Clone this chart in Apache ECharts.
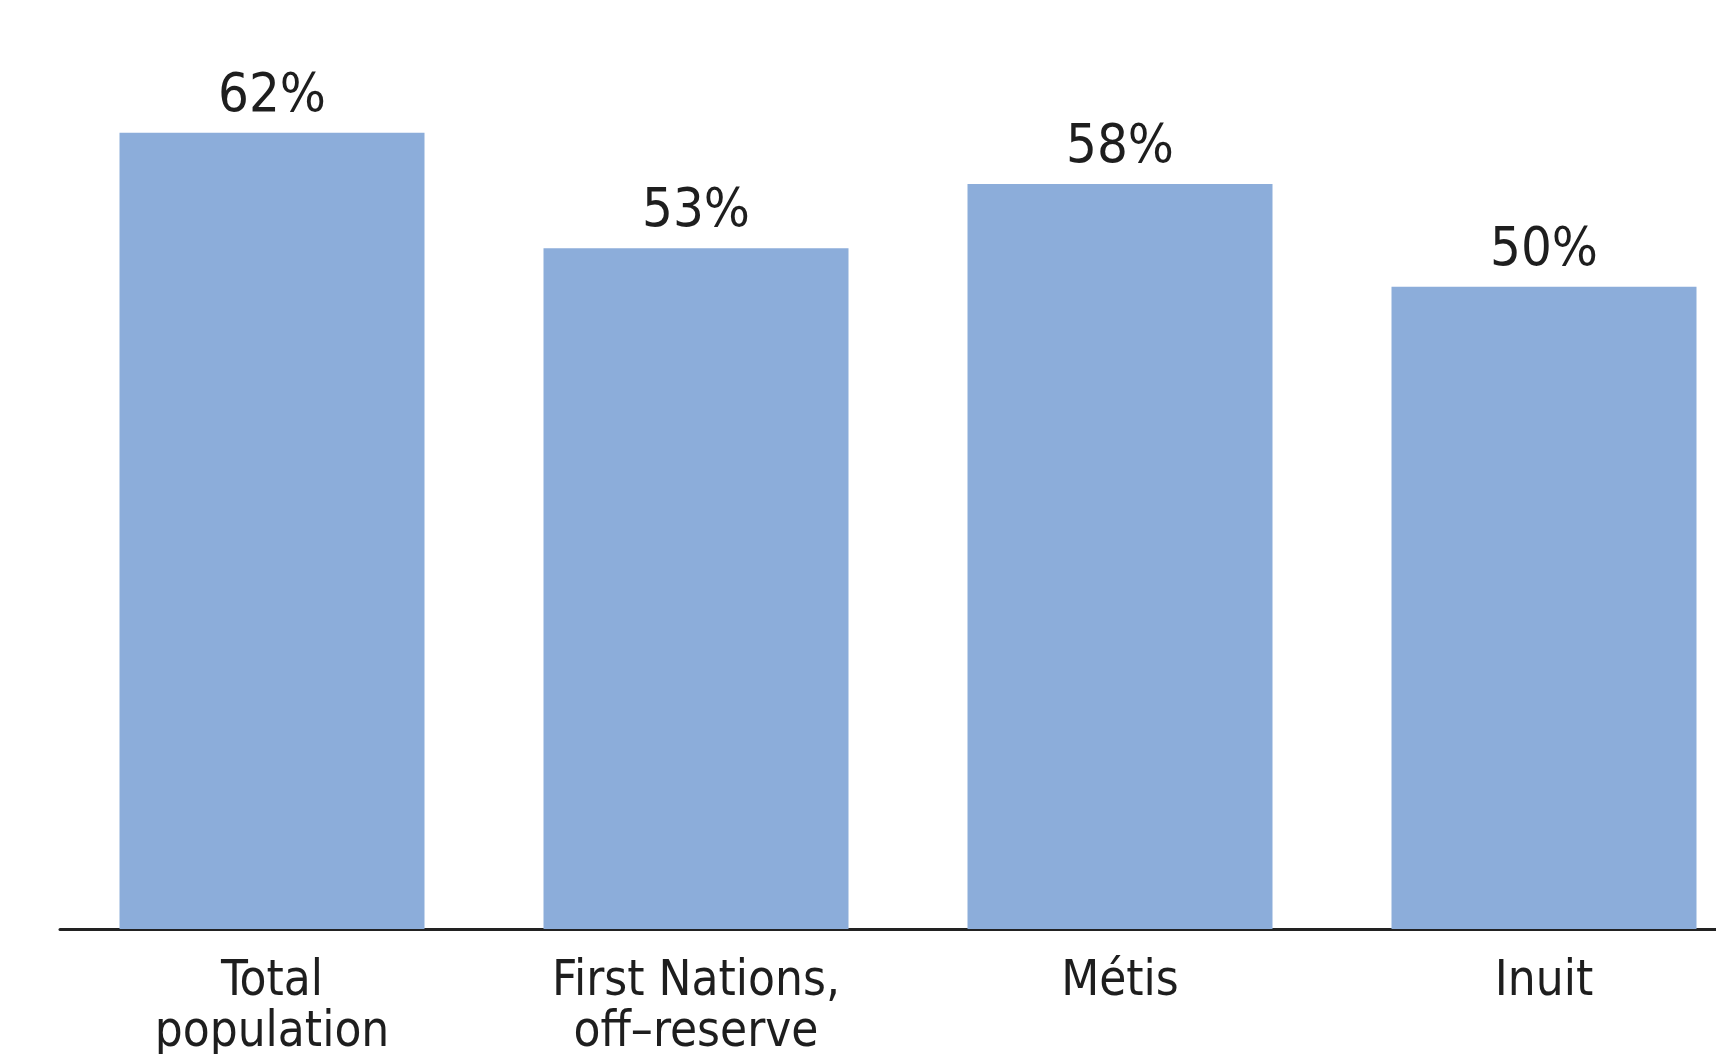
<!DOCTYPE html>
<html>
<head>
<meta charset="utf-8">
<script src="https://cdn.jsdelivr.net/npm/echarts@6/dist/echarts.min.js"></script>
<style>
  html, body { margin: 0; padding: 0; background: #fff; }
  #chart { width: 1716px; height: 1054px; }
</style>
</head>
<body>
<div id="chart"></div>
<script>
// share of each group, percent
const categories = ['Total\npopulation', 'First Nations,\noff\u2013reserve', 'Métis', 'Inuit'];
const shares = [62, 53, 58, 50];

const font = '"DejaVu Sans Condensed", "Liberation Sans Narrow", sans-serif';

const chart = echarts.init(document.getElementById('chart'));
chart.setOption({
  animation: false,
  grid: { left: 60, width: 1696, top: 30, bottom: 125, outerBoundsMode: 'none' },
  xAxis: {
    type: 'category',
    data: categories,
    axisLine: { lineStyle: { color: '#222', width: 3 } },
    axisTick: { show: false },
    axisLabel: {
      interval: 0,
      margin: 28,
      color: '#1e1e1e',
      fontFamily: font,
      fontSize: 49,
      lineHeight: 51
    }
  },
  yAxis: {
    type: 'value',
    min: 0,
    max: 70,
    show: false
  },
  series: [{
    type: 'bar',
    data: shares,
    barWidth: 305,
    itemStyle: { color: '#8cadda' },
    label: {
      show: true,
      position: 'top',
      distance: 9,
      formatter: '{c}%',
      color: '#1e1e1e',
      fontFamily: font,
      fontSize: 54
    }
  }]
});
</script>
</body>
</html>
